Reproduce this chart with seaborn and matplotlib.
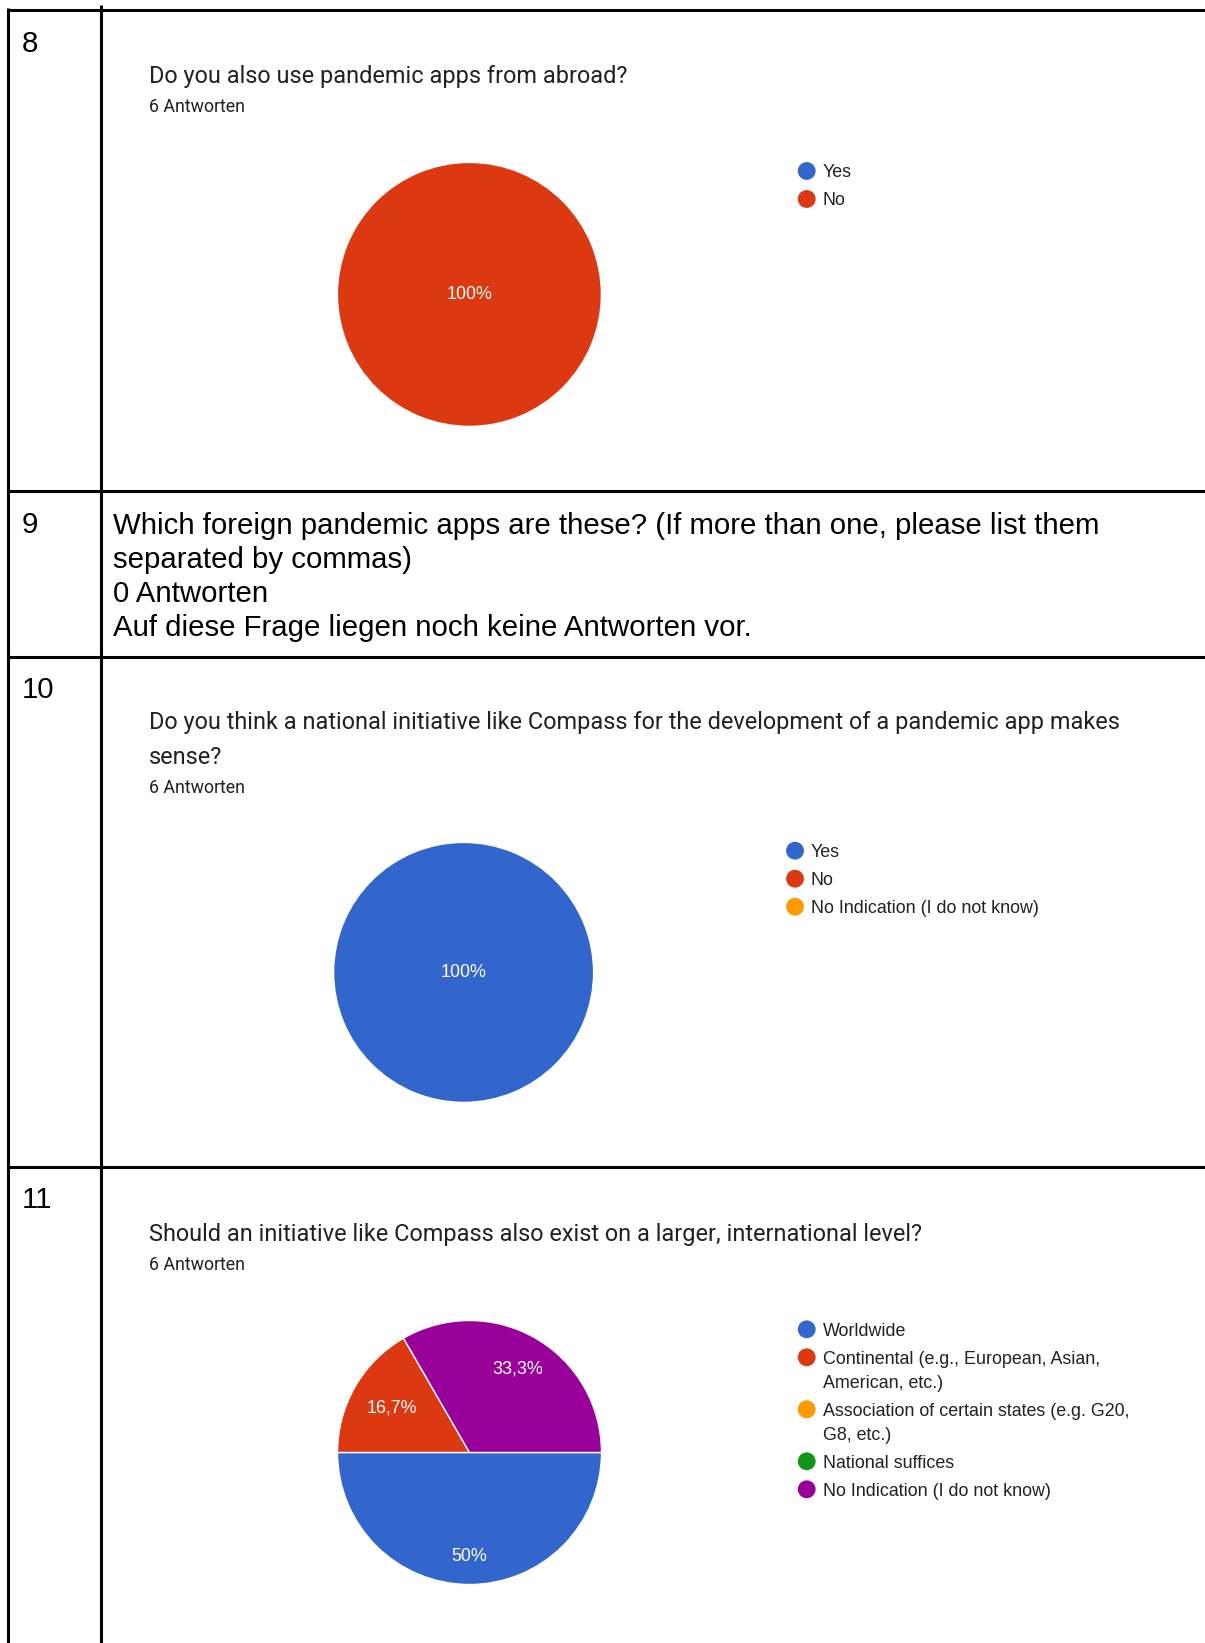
import matplotlib
matplotlib.use("Agg")
import matplotlib.pyplot as plt
import numpy as np
import seaborn as sns

W, H = 1205, 1643

# ---- survey content -------------------------------------------------------
row_numbers = ["8", "9", "10", "11"]

q8_title = ["Do you also use pandemic apps from abroad?"]
q8_answers = "6 Antworten"
q8_labels = ["Yes", "No"]
q8_counts = [0, 6]

q9_lines = [
    "Which foreign pandemic apps are these? (If more than one, please list them",
    "separated by commas)",
    "0 Antworten",
    "Auf diese Frage liegen noch keine Antworten vor.",
]

q10_title = [
    "Do you think a national initiative like Compass for the development of a pandemic app makes",
    "sense?",
]
q10_answers = "6 Antworten"
q10_labels = ["Yes", "No", "No Indication (I do not know)"]
q10_counts = [6, 0, 0]

q11_title = ["Should an initiative like Compass also exist on a larger, international level?"]
q11_answers = "6 Antworten"
q11_labels = [
    "Worldwide",
    "Continental (e.g., European, Asian,\nAmerican, etc.)",
    "Association of certain states (e.g. G20,\nG8, etc.)",
    "National suffices",
    "No Indication (I do not know)",
]
q11_counts = [3, 1, 0, 0, 2]

# ---- style ----------------------------------------------------------------
sns.set_theme(style="white")
palette = sns.color_palette(["#3366CC", "#DC3912", "#FF9900", "#109618", "#990099"])
TITLE_FONT = ["Roboto", "DejaVu Sans"]
ARIAL = ["Liberation Sans", "DejaVu Sans"]
plt.rcParams["font.family"] = ARIAL
TITLE_COLOR = "#202124"
LEGEND_COLOR = "#222222"

fig = plt.figure(figsize=(W / 100, H / 100), dpi=100)
bg = fig.add_axes([0, 0, 1, 1])
bg.set_xlim(0, W)
bg.set_ylim(H, 0)
bg.axis("off")
renderer = fig.canvas.get_renderer()


def fitted_size(text, family, width_px, ref=20.0):
    t = bg.text(0, 0, text, fontsize=ref, family=family)
    w = t.get_window_extent(renderer).width
    t.remove()
    return ref * width_px / w


title_fs = fitted_size(q10_title[0], TITLE_FONT, 967)
count_fs = fitted_size(q8_answers, TITLE_FONT, 96)
body_fs = fitted_size(q9_lines[0], ARIAL, 985)
legend_fs = fitted_size(q10_labels[2], ARIAL, 227)
pct_fs = fitted_size("100%", ARIAL, 46)


def cap_half(fs, ratio=0.716):
    # half the cap height in pixels for a font size given in points
    return fs / 0.72 * ratio / 2


# ---- table grid -----------------------------------------------------------
LW = 2.2
row_lines = [9.5, 491.0, 656.5, 1166.5]
for y in row_lines:
    bg.plot([7, W], [y, y], color="black", lw=LW, solid_capstyle="butt")
bg.plot([8, 8], [8, H], color="black", lw=LW, solid_capstyle="butt")
bg.plot([100.5, 100.5], [5, H], color="black", lw=LW, solid_capstyle="butt")

for num, y in zip(row_numbers, row_lines):
    bg.text(22, y + 42, num, fontsize=body_fs, family=ARIAL, color="black", va="baseline")

# ---- question 9 (text only) -----------------------------------------------
for i, line in enumerate(q9_lines):
    bg.text(113, 534 + i * 33.9, line, fontsize=body_fs, family=ARIAL,
            color="black", va="baseline")


# ---- helpers for the chart blocks ------------------------------------------
def draw_heading(lines, answers, y_first):
    y = y_first
    for ln in lines:
        bg.text(149, y + cap_half(title_fs, 0.711), ln, fontsize=title_fs,
                family=TITLE_FONT, color=TITLE_COLOR, va="baseline")
        y += 34.5
    bg.text(149, y - 3.5 + cap_half(count_fs, 0.711), answers, fontsize=count_fs,
            family=TITLE_FONT, color=TITLE_COLOR, va="baseline")


def draw_legend(labels, x_dot, y_first, x_text):
    y = y_first
    for i, lab in enumerate(labels):
        bg.scatter([x_dot], [y], s=165, color=palette[i], edgecolor="none", zorder=3)
        for j, part in enumerate(lab.split("\n")):
            bg.text(x_text, y + j * 24 + cap_half(legend_fs), part, fontsize=legend_fs,
                    family=ARIAL, color=LEGEND_COLOR, va="baseline")
        y += 28 + 24 * (len(lab.split("\n")) - 1)


def pct_text(p):
    if abs(p - round(p)) < 0.05:
        return f"{int(round(p))}%"
    return f"{p:.1f}%".replace(".", ",")


def draw_pie(cx, cy, r, counts):
    ax = fig.add_axes([(cx - r) / W, 1 - (cy + r) / H, 2 * r / W, 2 * r / H])
    vals = [c for c in counts if c > 0]
    cols = [palette[i] for i, c in enumerate(counts) if c > 0]
    wedges, _, autotexts = ax.pie(
        vals, colors=cols, startangle=0, counterclock=False, radius=1,
        autopct=pct_text, pctdistance=0.7,
        wedgeprops=dict(edgecolor="white", linewidth=1.0),
        textprops=dict(color="white", fontsize=pct_fs, family=ARIAL),
    )
    total = float(sum(vals))
    for w, t, v in zip(wedges, autotexts, vals):
        if len(vals) == 1:
            t.set_position((0, 0))
        else:
            mid = np.deg2rad((w.theta1 + w.theta2) / 2)
            d = 0.62 + 0.34 * v / total
            t.set_position((d * np.cos(mid), d * np.sin(mid)))
        t.set_ha("center")
        t.set_va("center")
    ax.set_xlim(-1, 1)
    ax.set_ylim(-1, 1)
    ax.axis("off")


# ---- question 8 -----------------------------------------------------------
draw_heading(q8_title, q8_answers, 74.4)
draw_pie(469.4, 294.4, 132, q8_counts)
draw_legend(q8_labels, 806.7, 171, 823)

# ---- question 10 ----------------------------------------------------------
draw_heading(q10_title, q10_answers, 721)
draw_pie(463.6, 972.4, 130, q10_counts)
draw_legend(q10_labels, 795, 850.7, 811)

# ---- question 11 ----------------------------------------------------------
draw_heading(q11_title, q11_answers, 1232.2)
draw_pie(469.5, 1452.5, 132, q11_counts)
draw_legend(q11_labels, 806.7, 1329.3, 823.3)

fig.savefig("out.png", dpi=100, facecolor="white")
